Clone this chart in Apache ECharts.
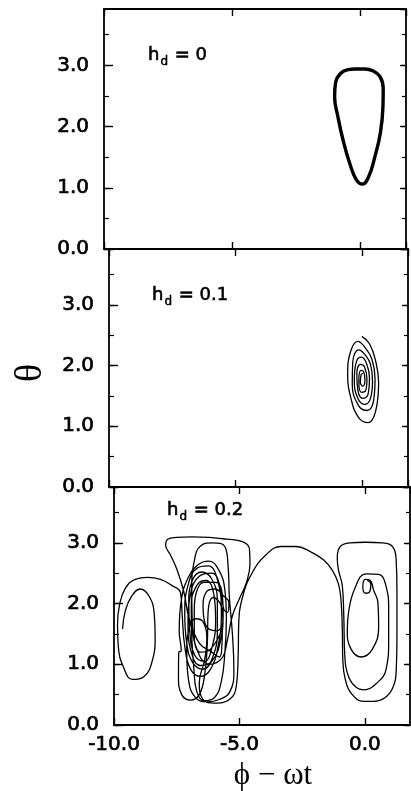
<!DOCTYPE html>
<html>
<head>
<meta charset="utf-8">
<script src="https://cdn.jsdelivr.net/npm/echarts@6/dist/echarts.min.js"></script>
<style>
  html, body { margin: 0; padding: 0; background: #fff; }
  #chart { width: 411px; height: 791px; }
</style>
</head>
<body>
<div id="chart"></div>
<script>
// θ versus (ϕ − ωt) trajectories for three drive amplitudes h_d

const driveValues = ['0', '0.1', '0.2'];
const xTickValues = [-10, -5, 0];
const yTickValues = [0, 1, 2, 3];

// h_d = 0: closed periodic orbit
const orbitH0 = [
  [-0.20, 2.94], [0.20, 2.94], [0.50, 2.91], [0.78, 2.82], [0.91, 2.62], [0.90, 2.33],
  [0.80, 1.90], [0.58, 1.50], [0.34, 1.18], [0.10, 1.06], [-0.14, 1.13], [-0.40, 1.40],
  [-0.66, 1.78], [-0.86, 2.16], [-0.99, 2.49], [-0.95, 2.72], [-0.75, 2.87], [-0.45, 2.93],
  [-0.20, 2.94]
];

// h_d = 0.1: spiral settling onto a fixed point
const spiralH01 = [
  [-0.02, 2.48], [0.28, 2.36], [0.52, 2.08], [0.64, 1.72], [0.56, 1.32], [0.22, 1.06],
  [-0.14, 1.14], [-0.44, 1.44], [-0.58, 1.86], [-0.46, 2.24], [-0.18, 2.40],
  [0.10, 2.30], [0.38, 2.10], [0.50, 1.78], [0.44, 1.42], [0.16, 1.26], [-0.18, 1.36],
  [-0.40, 1.70], [-0.38, 2.06], [-0.14, 2.26],
  [0.10, 2.18], [0.32, 2.02], [0.40, 1.74], [0.32, 1.46], [0.08, 1.36], [-0.18, 1.46],
  [-0.32, 1.76], [-0.24, 2.06], [-0.04, 2.14],
  [0.16, 2.04], [0.28, 1.80], [0.22, 1.52], [0.02, 1.46], [-0.18, 1.60], [-0.22, 1.86],
  [-0.08, 2.02],
  [0.08, 1.98], [0.18, 1.78], [0.12, 1.58], [-0.04, 1.56], [-0.14, 1.74], [-0.06, 1.92],
  [0.05, 1.90], [0.10, 1.77], [0.02, 1.66], [-0.08, 1.72], [-0.05, 1.85], [0.02, 1.87]
];

// h_d = 0.2: irregular trajectory, in consecutive pieces
const leftLoopH02 = [
  [-9.66, 1.58], [-9.55, 1.88], [-9.30, 2.12], [-8.95, 2.24], [-8.60, 2.12], [-8.40, 1.85],
  [-8.36, 1.45], [-8.48, 1.05], [-8.80, 0.80], [-9.26, 0.75], [-9.62, 0.95], [-9.83, 1.30],
  [-9.86, 1.65], [-9.78, 1.98], [-9.55, 2.25], [-9.15, 2.40], [-8.67, 2.43], [-8.15, 2.40],
  [-7.70, 2.30], [-7.35, 2.18]
];

const clusterH02 = [
  [-7.28, 1.80], [-7.18, 1.30], [-6.95, 0.92], [-6.55, 0.80], [-6.15, 0.92], [-5.85, 1.30],
  [-5.72, 1.85], [-5.85, 2.35], [-6.25, 2.62], [-6.70, 2.58], [-7.05, 2.30],
  [-7.18, 1.85], [-7.10, 1.35], [-6.85, 1.02], [-6.45, 0.92], [-6.08, 1.10], [-5.88, 1.55],
  [-5.88, 2.05], [-6.10, 2.40], [-6.50, 2.52], [-6.88, 2.38],
  [-7.02, 2.00], [-6.98, 1.55], [-6.78, 1.15], [-6.40, 1.05], [-6.08, 1.30], [-5.95, 1.75],
  [-6.02, 2.15], [-6.32, 2.38], [-6.70, 2.30], [-6.92, 1.95],
  [-6.90, 1.45], [-6.82, 0.95], [-6.70, 0.55], [-6.40, 0.40], [-6.00, 0.45], [-5.72, 0.72],
  [-5.58, 1.20], [-5.52, 1.75], [-5.58, 2.22], [-5.82, 2.55], [-6.22, 2.70], [-6.65, 2.64],
  [-7.05, 2.42], [-7.32, 2.05], [-7.40, 1.55], [-7.32, 1.22],
  [-7.42, 1.20], [-7.43, 0.80], [-7.30, 0.50], [-6.95, 0.41], [-6.60, 0.50], [-6.38, 0.85],
  [-6.28, 1.35], [-6.25, 1.85], [-6.04, 2.10], [-5.72, 1.95], [-5.66, 1.70], [-5.92, 1.55],
  [-6.35, 1.65], [-6.45, 1.95], [-6.30, 2.20], [-5.98, 2.24], [-5.62, 2.12], [-5.42, 2.02],
  [-5.46, 1.86], [-5.62, 1.90],
  [-5.75, 2.25], [-6.10, 2.50], [-6.60, 2.45], [-6.95, 2.15], [-7.05, 1.65], [-6.92, 1.20],
  [-6.55, 0.98], [-6.10, 1.05], [-5.75, 1.40], [-5.65, 1.85], [-5.70, 2.20], [-5.95, 2.35],
  [-6.40, 2.35], [-6.80, 1.90], [-6.80, 1.45], [-6.55, 1.20], [-6.15, 1.25], [-5.68, 1.60],
  [-5.70, 1.30], [-5.80, 1.12], [-6.10, 1.20], [-6.60, 1.35], [-7.00, 1.75], [-7.22, 2.20],
  [-7.48, 2.55], [-7.75, 2.80], [-7.94, 2.96], [-7.86, 3.06], [-7.50, 3.09], [-6.90, 3.10],
  [-6.20, 3.09], [-5.50, 3.06], [-4.88, 3.02], [-4.60, 2.90], [-4.58, 2.65], [-4.72, 2.35],
  [-4.98, 2.10], [-5.28, 1.80], [-5.48, 1.40],
  [-5.70, 1.10], [-6.20, 1.00], [-6.65, 1.20], [-6.88, 1.70], [-6.90, 2.25], [-6.80, 2.70],
  [-6.55, 2.95], [-6.05, 3.00], [-5.58, 2.94], [-5.45, 2.60], [-5.40, 2.10], [-5.28, 1.50],
  [-5.22, 0.90], [-5.38, 0.55], [-5.80, 0.42], [-6.30, 0.38], [-6.75, 0.45], [-7.02, 0.72],
  [-7.10, 1.20],
  [-7.00, 1.60], [-6.75, 1.75], [-6.45, 1.70], [-6.30, 1.40], [-6.40, 1.05], [-6.60, 0.70],
  [-6.45, 0.42], [-6.00, 0.36], [-5.40, 0.42], [-5.12, 0.65], [-5.05, 1.15], [-5.03, 1.65]
];

const exitArcH02 = [
  [-4.88, 2.10], [-4.50, 2.50], [-3.95, 2.80], [-3.35, 2.94], [-2.75, 2.94], [-2.15, 2.85],
  [-1.65, 2.72], [-1.30, 2.55], [-1.05, 2.32]
];

const rightLoopsH02 = [
  [-0.95, 2.05], [-0.90, 1.60], [-0.88, 1.10], [-0.78, 0.75], [-0.50, 0.50], [-0.05, 0.39],
  [0.36, 0.39], [0.80, 0.45], [1.10, 0.60], [1.25, 0.90], [1.28, 1.50], [1.28, 2.20],
  [1.25, 2.70], [1.12, 2.93], [0.70, 3.00], [0.03, 3.01], [-0.60, 3.00], [-1.00, 2.93],
  [-1.10, 2.75], [-1.05, 2.55], [-0.90, 2.30], [-0.84, 1.80], [-0.80, 1.15], [-0.65, 0.80],
  [-0.35, 0.62], [-0.05, 0.58], [0.45, 0.68], [0.85, 0.92], [0.95, 1.40], [0.95, 1.90],
  [0.85, 2.28], [0.55, 2.48], [0.05, 2.49], [-0.40, 2.25], [-0.65, 1.85], [-0.70, 1.55],
  [-0.55, 1.25], [-0.15, 1.12], [0.30, 1.25], [0.55, 1.62], [0.52, 2.02], [0.35, 2.22],
  [0.22, 2.38], [0.02, 2.40], [-0.08, 2.28], [0.02, 2.17], [0.20, 2.20], [0.24, 2.32],
  [0.10, 2.38]
];

const trajectoryH02 = [].concat(leftLoopH02, clusterH02, exitArcH02, rightLoopsH02);

// ---- layout ----
const panels = [
  { left: 104, top: 9,   width: 302, height: 240 },
  { left: 109, top: 249, width: 299, height: 238 },
  { left: 114, top: 487, width: 296, height: 238 }
];
const X_MIN = -10, X_MAX = 1.8, Y_MIN = 0, Y_MAX = 3.92;
const INK = '#000';
const SANS = '"DejaVu Sans", sans-serif';
const SERIF = '"Liberation Serif", "DejaVu Serif", serif';

// regular face with a hairline outline, slightly heavier than plain text
const labelFace = {
  color: INK, fontFamily: SANS, fontSize: 20, fontWeight: 'normal',
  textBorderColor: INK, textBorderWidth: 0.7
};

const xFmt = v => xTickValues.includes(v) ? v.toFixed(1) : '';
const yFmt = v => yTickValues.includes(v) ? v.toFixed(1) : '';

const xAxes = [], yAxes = [];
panels.forEach((p, i) => {
  ['bottom', 'top'].forEach(pos => {
    xAxes.push({
      gridIndex: i, type: 'value', position: pos, min: X_MIN, max: X_MAX, interval: 5,
      axisLine: { show: true, onZero: false, lineStyle: { color: INK, width: 1.8 } },
      axisTick: { show: true, inside: true, length: 7, lineStyle: { color: INK, width: 1.4 } },
      axisLabel: Object.assign({
        show: pos === 'bottom' && i === 2, formatter: xFmt, margin: 10, showMaxLabel: false
      }, labelFace),
      splitLine: { show: false }
    });
  });
  [['left', 9, 5], ['right', 6, 4]].forEach(([pos, majorLen, minorLen]) => {
    yAxes.push({
      gridIndex: i, type: 'value', position: pos, min: Y_MIN, max: Y_MAX, interval: 1,
      axisLine: { show: true, onZero: false, lineStyle: { color: INK, width: 1.8 } },
      axisTick: { show: true, inside: true, length: majorLen, lineStyle: { color: INK, width: 1.4 } },
      axisLabel: Object.assign({
        show: pos === 'left', formatter: yFmt, margin: 15, showMaxLabel: false
      }, labelFace),
      splitLine: { show: false }
    });
    yAxes.push({
      gridIndex: i, type: 'value', position: pos, min: Y_MIN, max: Y_MAX, interval: 0.5,
      axisLine: { show: false, onZero: false },
      axisTick: { show: true, inside: true, length: minorLen, lineStyle: { color: INK, width: 1.2 } },
      axisLabel: { show: false },
      splitLine: { show: false }
    });
  });
});

const curve = (i, data, width) => ({
  type: 'line', xAxisIndex: 2 * i, yAxisIndex: 4 * i, data: data,
  smooth: 0.45, showSymbol: false, symbol: 'none', silent: true,
  lineStyle: { color: INK, width: width }, z: 3
});

// "h_d = value" with a lowered subscript
const subText = (x, y, value) => ({
  type: 'text', x: x, y: y,
  style: {
    text: '{m|h}{s|d}{m| = ' + value + '}',
    fill: INK,
    rich: {
      m: { fontFamily: SANS, fontSize: 18, lineHeight: 20, verticalAlign: 'top',
           fill: INK, stroke: INK, lineWidth: 0.6 },
      s: { fontFamily: SANS, fontSize: 12, lineHeight: 13, padding: [10, 1, 0, 1], verticalAlign: 'top',
           fill: INK, stroke: INK, lineWidth: 0.5 }
    }
  }
});

const option = {
  backgroundColor: '#fff',
  animation: false,
  grid: panels.map(p => ({ left: p.left, top: p.top, width: p.width, height: p.height, containLabel: false })),
  xAxis: xAxes,
  yAxis: yAxes,
  series: [
    curve(0, orbitH0, 3.4),
    curve(1, spiralH01, 1.3),
    curve(2, trajectoryH02, 1.3)
  ],
  graphic: [
    subText(148, 46, driveValues[0]),
    subText(152, 286, driveValues[1]),
    subText(167, 501, driveValues[2]),
    {
      type: 'text', x: 31, y: 373, rotation: Math.PI / 2,
      style: { text: 'θ', fill: INK, fontFamily: SERIF, fontSize: 38,
               align: 'center', verticalAlign: 'middle', textAlign: 'center', textVerticalAlign: 'middle' }
    },
    {
      type: 'text', x: 273, y: 776,
      style: { text: 'ϕ − ωt', fill: INK, fontFamily: SERIF, fontSize: 31,
               align: 'center', verticalAlign: 'middle', textAlign: 'center', textVerticalAlign: 'middle' }
    }
  ]
};

const chart = echarts.init(document.getElementById('chart'), null, { renderer: 'canvas' });
chart.setOption(option);
</script>
</body>
</html>
